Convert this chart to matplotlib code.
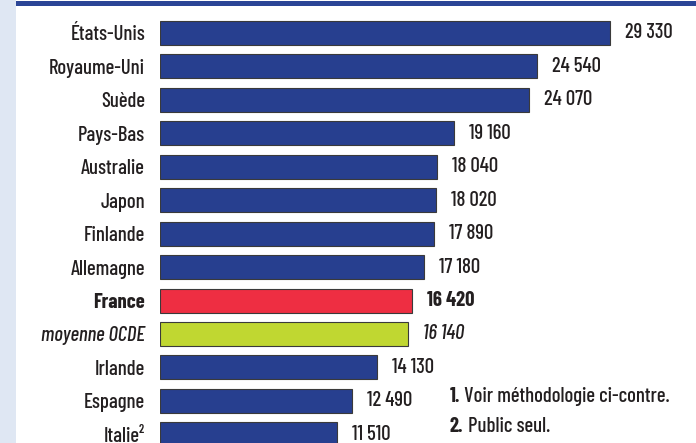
import matplotlib
matplotlib.use("Agg")
import matplotlib.pyplot as plt
from matplotlib import font_manager as fm
from matplotlib.patches import Rectangle

# data, top to bottom
countries = ["États-Unis", "Royaume-Uni", "Suède", "Pays-Bas", "Australie", "Japon",
             "Finlande", "Allemagne", "France", "moyenne OCDE", "Irlande", "Espagne",
             "Italie²"]
values = [29330, 24540, 24070, 19160, 18040, 18020, 17890, 17180, 16420, 16140,
          14130, 12490, 11510]
value_labels = ["29 330", "24 540", "24 070", "19 160", "18 040", "18 020", "17 890",
                "17 180", "16 420", "16 140", "14 130", "12 490", "11 510"]
footnotes = [("1.", " Voir méthodologie ci-contre."), ("2.", " Public seul.")]

NAVY = "#273f8f"
RED = "#ee2e42"
GREEN = "#c0d731"
TEXT = "#231f20"

# pick a condensed face, close to the Univers Condensed of the original
available = {f.name for f in fm.fontManager.ttflist}
family = "DejaVu Sans"
for cand in ["Barlow Condensed", "Roboto Condensed", "Barlow Semi Condensed",
             "Archivo Narrow", "Liberation Sans Narrow"]:
    if cand in available:
        family = cand
        break
plt.rcParams["font.family"] = [family, "DejaVu Sans"]
REG = 500 if family.startswith("Barlow") else "normal"

W, H = 696, 443
fig = plt.figure(figsize=(W / 100, H / 100), dpi=100)
fig.patch.set_facecolor("white")

# calibrate font size against a few label widths measured on the original (px)
ref_widths = {"États-Unis": 73, "Royaume-Uni": 92, "moyenne OCDE": 112}
ratios = []
for s, w in ref_widths.items():
    st = "italic" if s == "moyenne OCDE" else "normal"
    probe = fig.text(0, 0, s, fontsize=10, fontweight=REG, fontstyle=st)
    fig.canvas.draw()
    ratios.append(w / probe.get_window_extent().width)
    probe.remove()
FS = 10 * sum(ratios) / len(ratios)

# left stripe and top rule
fig.add_artist(Rectangle((0, 0), 16 / W, 1, transform=fig.transFigure,
                         facecolor="#dfe7f3", edgecolor="none", zorder=0))
fig.add_artist(Rectangle((16 / W, 1 - 6 / H), 1, 5 / H, transform=fig.transFigure,
                         facecolor="#2b4596", edgecolor="none", zorder=5))

# axes placed in pixel terms: bars start at x=160, 1 unit = 450/29330 px
x0 = 160
scale = 450 / 29330
ax = fig.add_axes([x0 / W, 0, (W - x0) / W, 1])
ax.set_xlim(0, (W - x0) / scale)
row = 33.44
ax.set_ylim((H - 33) / row, -33 / row)
ax.set_facecolor("none")
for s in ax.spines.values():
    s.set_visible(False)

colors = [NAVY] * len(countries)
colors[countries.index("France")] = RED
colors[countries.index("moyenne OCDE")] = GREEN

pos = list(range(len(countries)))
ax.barh(pos, values, height=24 / row, color=colors, edgecolor="#3a3a3a",
        linewidth=0.8, zorder=2)

ax.set_xticks([])
ax.set_yticks(pos)
ax.set_yticklabels(countries)
ax.tick_params(axis="y", length=0, pad=10.8, labelsize=FS, labelcolor=TEXT)

for lab, name in zip(ax.get_yticklabels(), countries):
    lab.set_fontweight(REG)
    if name == "France":
        lab.set_fontweight("bold")
    elif name == "moyenne OCDE":
        lab.set_fontstyle("italic")

for p, v, txt, name in zip(pos, values, value_labels, countries):
    weight = "bold" if name == "France" else REG
    style = "italic" if name == "moyenne OCDE" else "normal"
    ax.annotate(txt, (v, p), xytext=(10.8, 0), textcoords="offset points",
                va="center", ha="left", fontsize=FS, color=TEXT,
                fontweight=weight, fontstyle=style)

# footnotes
for i, (num, rest) in enumerate(footnotes):
    y = 1 - (396 + 31 * i) / H
    t1 = fig.text(450 / W, y, num, fontsize=FS, fontweight="bold",
                  color=TEXT, va="center", ha="left")
    ax.annotate(rest, xy=(1, 0), xycoords=t1, va="bottom", ha="left",
                fontsize=FS, fontweight=REG, color=TEXT, annotation_clip=False)

fig.savefig("out.png", dpi=100)
